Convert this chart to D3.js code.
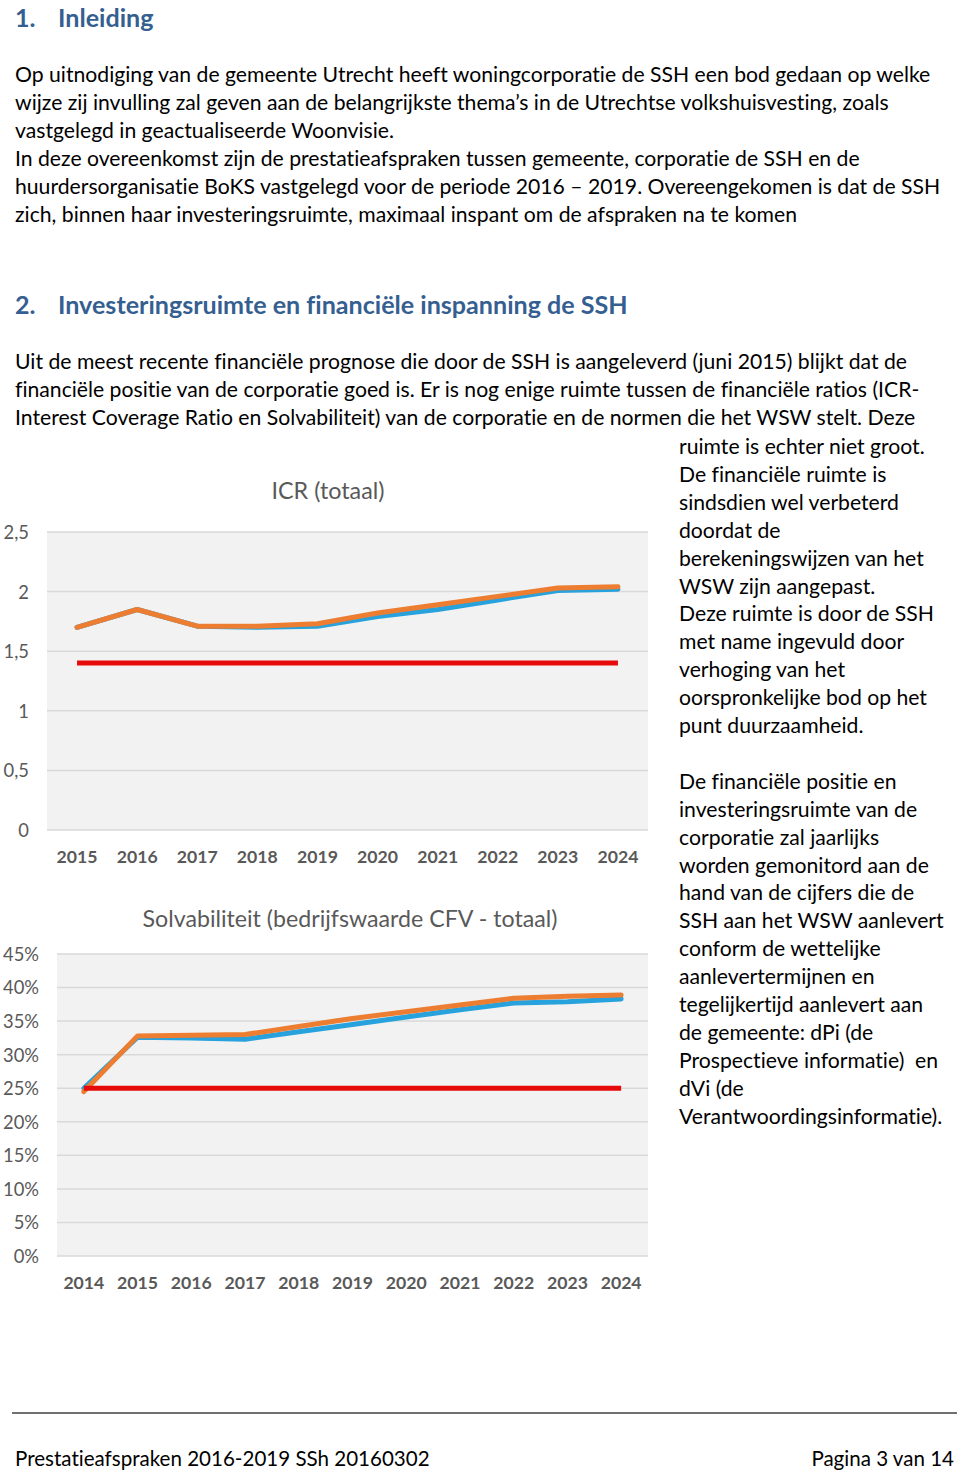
<!DOCTYPE html>
<html><head><meta charset="utf-8">
<script src="https://cdn.jsdelivr.net/npm/d3@7"></script>
<style>body{margin:0;background:#fff}svg{display:block}text{font-variant-ligatures:none;font-feature-settings:"liga" 0}</style>
</head><body>
<svg id="c" width="960" height="1472"></svg>
<script>
// ---------- DATA ----------
const icrYears = [2015, 2016, 2017, 2018, 2019, 2020, 2021, 2022, 2023, 2024];
const icrOrange = [1.70, 1.85, 1.71, 1.71, 1.73, 1.82, 1.89, 1.96, 2.03, 2.04];
const icrBlue   = [1.70, 1.85, 1.71, 1.70, 1.71, 1.79, 1.85, 1.93, 2.01, 2.02];
const icrNorm = 1.4;
const icrTicks = [0, 0.5, 1, 1.5, 2, 2.5];
const icrTitle = "ICR (totaal)";

const solvYears = [2014, 2015, 2016, 2017, 2018, 2019, 2020, 2021, 2022, 2023, 2024];
const solvOrange = [24.5, 32.8, 32.9, 33.0, 34.2, 35.4, 36.4, 37.4, 38.4, 38.7, 38.9];
const solvBlue   = [25.0, 32.6, 32.5, 32.3, 33.4, 34.5, 35.6, 36.7, 37.7, 37.9, 38.3];
const solvNorm = 25;
const solvTicks = [0, 5, 10, 15, 20, 25, 30, 35, 40, 45];
const solvTitle = "Solvabiliteit (bedrijfswaarde CFV - totaal)";

const heading1 = ["1.", "Inleiding"];
const heading2 = ["2.", "Investeringsruimte en financiële inspanning de SSH"];
const para1 = [
  "Op uitnodiging van de gemeente Utrecht heeft woningcorporatie de SSH een bod gedaan op welke",
  "wijze zij invulling zal geven aan de belangrijkste thema’s in de Utrechtse volkshuisvesting, zoals",
  "vastgelegd in geactualiseerde Woonvisie.",
  "In deze overeenkomst zijn de prestatieafspraken tussen gemeente, corporatie de SSH en de",
  "huurdersorganisatie BoKS vastgelegd voor de periode 2016 – 2019. Overeengekomen is dat de SSH",
  "zich, binnen haar investeringsruimte, maximaal inspant om de afspraken na te komen"
];
const para2 = [
  "Uit de meest recente financiële prognose die door de SSH is aangeleverd (juni 2015) blijkt dat de",
  "financiële positie van de corporatie goed is. Er is nog enige ruimte tussen de financiële ratios (ICR-",
  "Interest Coverage Ratio en Solvabiliteit) van de corporatie en de normen die het WSW stelt. Deze"
];
const sideText = [
  "ruimte is echter niet groot.",
  "De financiële ruimte is",
  "sindsdien wel verbeterd",
  "doordat de",
  "berekeningswijzen van het",
  "WSW zijn aangepast.",
  "Deze ruimte is door de SSH",
  "met name ingevuld door",
  "verhoging van het",
  "oorspronkelijke bod op het",
  "punt duurzaamheid.",
  "",
  "De financiële positie en",
  "investeringsruimte van de",
  "corporatie zal jaarlijks",
  "worden gemonitord aan de",
  "hand van de cijfers die de",
  "SSH aan het WSW aanlevert",
  "conform de wettelijke",
  "aanlevertermijnen en",
  "tegelijkertijd aanlevert aan",
  "de gemeente: dPi (de",
  "Prospectieve informatie)  en",
  "dVi (de",
  "Verantwoordingsinformatie)."
];
const footerLeft = "Prestatieafspraken 2016-2019 SSh 20160302";
const footerRight = "Pagina 3 van 14";

// ---------- HELPERS ----------
const FONT = "Lato, 'Open Sans', 'Liberation Sans', sans-serif";
const svg = d3.select("#c");
svg.append("rect").attr("width", 960).attr("height", 1472).attr("fill", "#fff");

function fitSize(text, weight, target) {
  const t = svg.append("text").attr("font-family", FONT).attr("font-size", 20)
    .attr("font-weight", weight).style("white-space", "pre").text(text);
  const w = t.node().getComputedTextLength();
  t.remove();
  return 20 * target / w;
}

const bodySize = fitSize(para1[0], 400, 916);
const headSize = fitSize(heading2[1], 700, 570);

function addText(x, y, str, size, opts = {}) {
  return svg.append("text").attr("x", x).attr("y", y)
    .attr("font-family", FONT).attr("font-size", size)
    .attr("font-weight", opts.weight || 400)
    .attr("fill", opts.fill || "#000")
    .attr("text-anchor", opts.anchor || "start")
    .style("white-space", "pre")
    .text(str);
}

// ---------- TEXT ----------
const headColor = "#365F91";
addText(15, 27, heading1[0], headSize, {weight: 700, fill: headColor});
addText(58, 27, heading1[1], headSize, {weight: 700, fill: headColor});
para1.forEach((l, i) => addText(15, 82 + i * 28, l, bodySize));
addText(15, 314, heading2[0], headSize, {weight: 700, fill: headColor});
addText(58, 314, heading2[1], headSize, {weight: 700, fill: headColor});
para2.forEach((l, i) => addText(15, 369 + i * 28, l, bodySize));
sideText.forEach((l, i) => addText(679, 454 + i * 27.9, l, bodySize));

svg.append("line").attr("x1", 12).attr("x2", 957).attr("y1", 1413).attr("y2", 1413)
  .attr("stroke", "#404040").attr("stroke-width", 1.5);
const footSize = fitSize(footerLeft, 400, 415);
addText(15, 1466, footerLeft, footSize);
addText(954, 1466, footerRight, footSize, {anchor: "end"});

// ---------- CHARTS ----------
const C = {orange: "#ED7D31", blue: "#27A2DC", red: "#E60A0A", bg: "#F2F2F2", grid: "#D9D9D9", label: "#595959"};

function drawChart(cfg) {
  const g = svg.append("g");
  const x = d3.scaleBand().domain(cfg.years).range([cfg.x0, cfg.x1]);
  const y = d3.scaleLinear().domain([0, cfg.max]).range([cfg.yBottom, cfg.yTop]);
  const cx = d => x(d) + x.bandwidth() / 2;

  g.append("rect").attr("x", cfg.x0).attr("y", cfg.yTop)
    .attr("width", cfg.x1 - cfg.x0).attr("height", cfg.yBottom - cfg.yTop).attr("fill", C.bg);

  g.selectAll(".grid").data(cfg.ticks).join("line")
    .attr("x1", cfg.x0).attr("x2", cfg.x1)
    .attr("y1", d => y(d)).attr("y2", d => y(d))
    .attr("stroke", C.grid).attr("stroke-width", 1.5);

  const yAxis = d3.axisLeft(y).tickValues(cfg.ticks).tickSize(0).tickPadding(0).tickFormat(cfg.fmt);
  const ya = g.append("g").attr("transform", `translate(${cfg.yLabelX},0)`).call(yAxis);
  ya.select(".domain").remove();
  ya.selectAll("text").attr("font-family", FONT).attr("font-size", cfg.ySize)
    .attr("fill", C.label).attr("dy", "0.35em");

  const xAxis = d3.axisBottom(x).tickSize(0).tickPadding(0);
  const xa = g.append("g").attr("transform", `translate(0,${cfg.xLabelY})`).call(xAxis);
  xa.select(".domain").remove();
  xa.selectAll("text").attr("font-family", FONT).attr("font-size", cfg.xSize)
    .attr("font-weight", 700).attr("fill", C.label).attr("dy", "0.35em");

  g.append("text").attr("x", cfg.titleX).attr("y", cfg.titleY).attr("dy", "0.35em")
    .attr("text-anchor", "middle").attr("font-family", FONT).attr("font-size", cfg.titleSize)
    .attr("fill", C.label).text(cfg.title);

  const line = d3.line().x((d, i) => cx(cfg.years[i])).y(d => y(d));
  g.append("path").datum(cfg.blue).attr("d", line).attr("fill", "none")
    .attr("stroke", C.blue).attr("stroke-width", 5).attr("stroke-linejoin", "round").attr("stroke-linecap", "round");
  g.append("path").datum(cfg.orange).attr("d", line).attr("fill", "none")
    .attr("stroke", C.orange).attr("stroke-width", 5).attr("stroke-linejoin", "round").attr("stroke-linecap", "round");
  const normData = cfg.years.map(() => cfg.norm);
  g.append("path").datum(normData).attr("d", line).attr("fill", "none")
    .attr("stroke", C.red).attr("stroke-width", 5).attr("stroke-linecap", "butt");
}

const yearSize = fitSize("2015", 700, 41);
const ySize = fitSize("45%", 400, 36);

drawChart({
  years: icrYears, orange: icrOrange, blue: icrBlue, norm: icrNorm, ticks: icrTicks, max: 2.5,
  x0: 47, x1: 648, yTop: 532, yBottom: 830, yLabelX: 29, xLabelY: 857,
  fmt: d => String(d).replace(".", ","), ySize: ySize, xSize: yearSize,
  title: icrTitle, titleX: 328, titleY: 491, titleSize: fitSize(icrTitle, 400, 113)
});
drawChart({
  years: solvYears, orange: solvOrange, blue: solvBlue, norm: solvNorm, ticks: solvTicks, max: 45,
  x0: 57, x1: 648, yTop: 954, yBottom: 1256, yLabelX: 39, xLabelY: 1283,
  fmt: d => d + "%", ySize: ySize, xSize: yearSize,
  title: solvTitle, titleX: 350, titleY: 919, titleSize: fitSize(solvTitle, 400, 415)
});
</script>
</body></html>
